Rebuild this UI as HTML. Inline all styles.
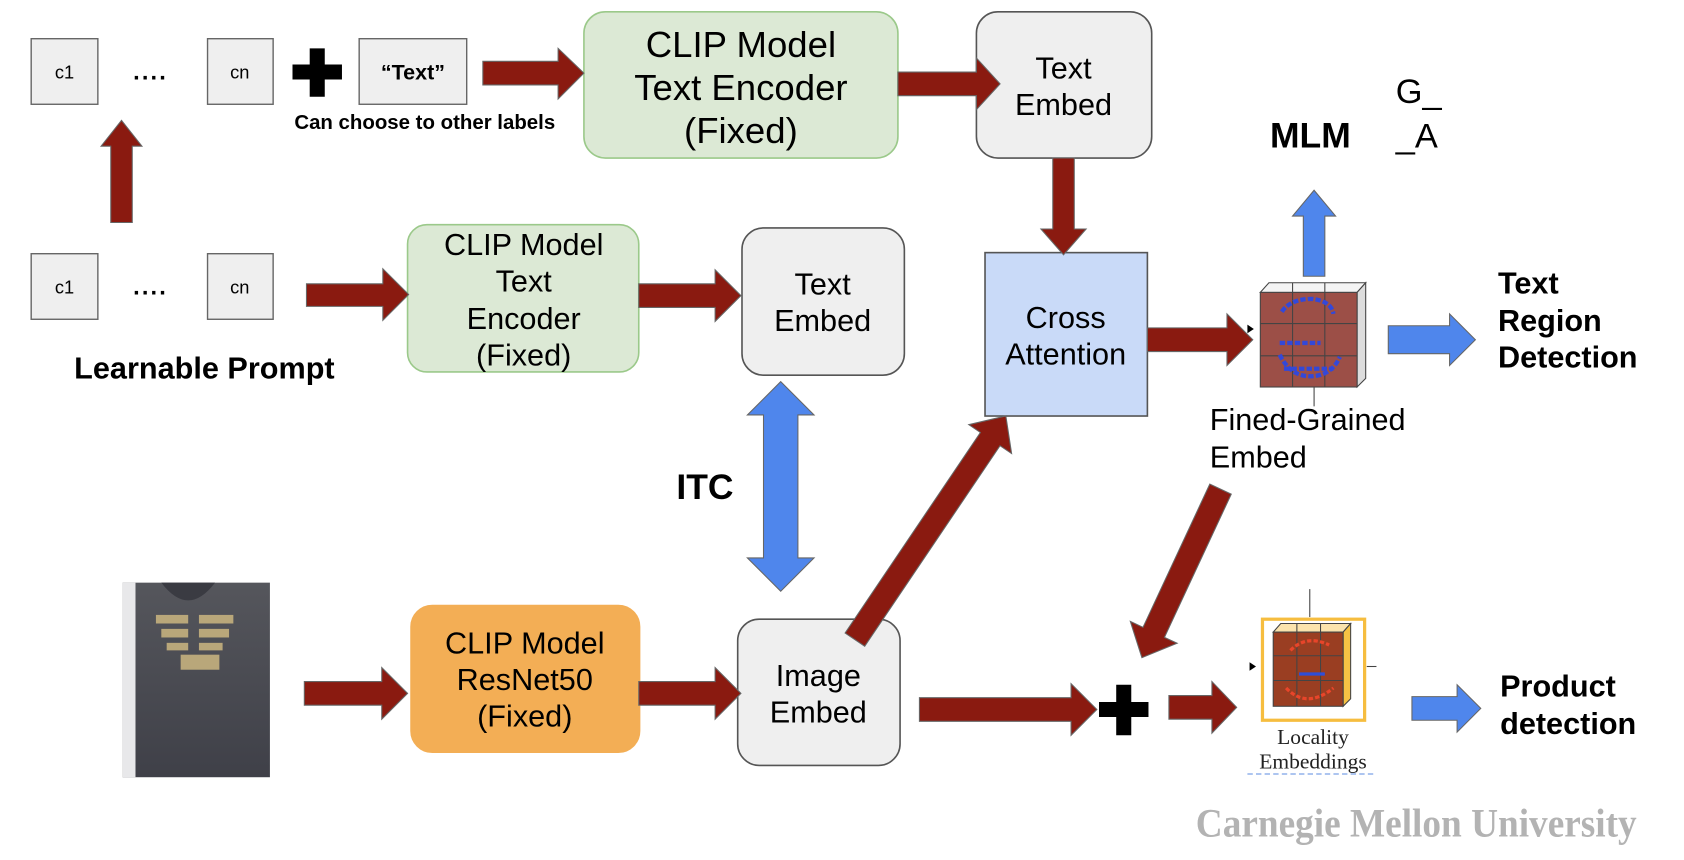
<!DOCTYPE html>
<html><head><meta charset="utf-8"><style>html,body{margin:0;padding:0;background:#fff;overflow:hidden}svg{display:block}</style></head>
<body>
<svg width="1684" height="860" viewBox="0 0 1566 800" preserveAspectRatio="none" xmlns="http://www.w3.org/2000/svg" font-family="Liberation Sans, Arial, sans-serif">
<defs>
<linearGradient id="hood" x1="0" y1="0" x2="0" y2="1"><stop offset="0" stop-color="#55565c"/><stop offset="1" stop-color="#3f4048"/></linearGradient>
</defs>
<g fill="#efefef" stroke="#666" stroke-width="1.3">
<rect x="29" y="36" width="62" height="61"/><rect x="193" y="36" width="61" height="61"/><rect x="334" y="36" width="100" height="61"/>
<rect x="29" y="236" width="62" height="61"/><rect x="193" y="236" width="61" height="61"/>
</g>
<g font-size="17" text-anchor="middle" fill="#000">
<text x="60" y="73">c1</text><text x="223" y="73">cn</text><text x="60" y="273">c1</text><text x="223" y="273">cn</text>
<text x="140" y="74" font-size="22" font-weight="bold" letter-spacing="2">....</text><text x="140" y="274" font-size="22" font-weight="bold" letter-spacing="2">....</text>
<text x="384" y="74" font-size="20" font-weight="bold">“Text”</text>
<text x="395" y="120" font-size="19" font-weight="bold">Can choose to other labels</text>
</g>
<path d="M288,45h14v15h16v14h-16v16h-14v-16h-16v-14h16z" fill="#000"/>
<path d="M1038,637h14v16h16v14h-16v17h-14v-17h-16v-14h16z" fill="#000"/>
<rect x="543" y="11" width="292" height="136" rx="20" fill="#dce9d5" stroke="#9bc98a" stroke-width="1.5"/>
<rect x="379" y="209" width="215" height="137" rx="18" fill="#dce9d5" stroke="#9bc98a" stroke-width="1.5"/>
<rect x="382" y="563" width="213" height="137" rx="20" fill="#f3ae55" stroke="#f3ae55"/>
<g fill="#efefef" stroke="#555" stroke-width="1.5">
<rect x="908" y="11" width="163" height="136" rx="20"/>
<rect x="690" y="212" width="151" height="137" rx="20"/>
<rect x="686" y="576" width="151" height="136" rx="20"/>
</g>
<rect x="916" y="235" width="151" height="152" fill="#c9daf8" stroke="#555" stroke-width="1.5"/>
<g font-size="34" text-anchor="middle" fill="#000">
<text x="689" y="53">CLIP Model</text><text x="689" y="93">Text Encoder</text><text x="689" y="133">(Fixed)</text>
</g>
<g font-size="28.5" text-anchor="middle" fill="#000">
<text x="989" y="73">Text</text><text x="989" y="107">Embed</text>
<text x="487" y="237">CLIP Model</text><text x="487" y="271">Text</text><text x="487" y="306">Encoder</text><text x="487" y="340">(Fixed)</text>
<text x="765" y="274">Text</text><text x="765" y="308">Embed</text>
<text x="991" y="305">Cross</text><text x="991" y="339">Attention</text>
<text x="488" y="608">CLIP Model</text><text x="488" y="642">ResNet50</text><text x="488" y="676">(Fixed)</text>
<text x="761" y="638">Image</text><text x="761" y="672">Embed</text>
</g>
<g font-size="28.5" fill="#000">
<text x="1125" y="400">Fined-Grained</text><text x="1125" y="435">Embed</text>
<text x="1298" y="96" font-size="32">G_</text><text x="1298" y="137" font-size="32">_A</text>
</g>
<g font-weight="bold" fill="#000">
<text x="69" y="352" font-size="28.5">Learnable Prompt</text>
<text x="1181" y="137" font-size="33">MLM</text>
<text x="629" y="464" font-size="33">ITC</text>
<text x="1393" y="273" font-size="28.5">Text</text><text x="1393" y="308" font-size="28.5">Region</text><text x="1393" y="342" font-size="28.5">Detection</text>
<text x="1395" y="648" font-size="28.5">Product</text><text x="1395" y="683" font-size="28.5">detection</text>
</g>
<g fill="#8a1a10" stroke="#666" stroke-width="1">
<polygon points="449,57 519,57 519,45 543,68 519,92 519,79 449,79"/>
<polygon points="835,67 908,67 908,54 930,78 908,102 908,89 835,89"/>
<polygon points="285,264 356,264 356,250 380,274 356,298 356,285 285,285"/>
<polygon points="594,264 665,264 665,251 689,275 665,299 665,286 594,286"/>
<polygon points="283,634 355,634 355,621 379,645 355,669 355,656 283,656"/>
<polygon points="594,634 665,634 665,621 689,645 665,669 665,656 594,656"/>
<polygon points="1067,305 1141,305 1141,292 1165,316 1141,340 1141,327 1067,327"/>
<polygon points="855,649 996,649 996,636 1020,660 996,684 996,671 855,671"/>
<polygon points="1087,647 1127,647 1127,634 1150,658 1127,682 1127,669 1087,669"/>
<polygon transform="translate(113,207) rotate(-90)" points="0,-10 71,-10 71,-19 95,0 71,19 71,10 0,10"/>
<polygon transform="translate(989,147) rotate(90)" points="0,-10 66,-10 66,-21 90,0 66,21 66,10 0,10"/>
<polygon transform="translate(795,595) rotate(-56)" points="0,-11 225,-11 225,-24 251,0 225,24 225,11 0,11"/>
<polygon transform="translate(1135,455) rotate(115)" points="0,-11 147,-11 147,-24 173,0 147,24 147,11 0,11"/>
</g>
<g fill="#4f86ec" stroke="#666" stroke-width="1">
<polygon points="1291,303 1348,303 1348,292 1372,316 1348,340 1348,329 1291,329"/>
<polygon points="1313,648 1355,648 1355,637 1377,659 1355,681 1355,670 1313,670"/>
<polygon transform="translate(1222,257) rotate(-90)" points="0,-10 56,-10 56,-20 80,0 56,20 56,10 0,10"/>
<polygon points="710,386 695,386 726,355 757,386 742,386 742,519 757,519 726,550 695,519 710,519"/>
</g>
<polygon points="1172,272 1180,263 1270,263 1262,272" fill="#f4f4f4" stroke="#444"/>
<polygon points="1262,272 1270,263 1270,352 1262,360" fill="#ddd" stroke="#444"/>
<rect x="1172" y="272" width="90" height="88" fill="#9c4f47" stroke="#444"/>
<g stroke="#444" stroke-width="1"><line x1="1202" y1="263" x2="1202" y2="360"/><line x1="1232" y1="263" x2="1232" y2="360"/><line x1="1172" y1="301" x2="1262" y2="301"/><line x1="1172" y1="331" x2="1262" y2="331"/><line x1="1222" y1="360" x2="1222" y2="378"/></g>
<g fill="none" stroke="#3348d8" stroke-width="4" stroke-dasharray="5 2">
<path d="M1192,290 Q1200,278 1220,278 Q1238,280 1240,292"/><line x1="1190" y1="319" x2="1228" y2="319"/><line x1="1194" y1="343" x2="1240" y2="343"/><path d="M1190,330 Q1200,350 1218,350 Q1238,350 1246,332"/>
</g>
<polygon points="1160,302 1166,306 1160,310" fill="#000"/>
<line x1="1218" y1="548" x2="1218" y2="574" stroke="#444"/>
<line x1="1271" y1="620" x2="1280" y2="620" stroke="#444"/>
<rect x="1174" y="576" width="95" height="94" fill="#fff" stroke="#f6bd3f" stroke-width="3"/>
<polygon points="1184,588 1191,580 1256,580 1249,588" fill="#fbe3ad" stroke="#444"/>
<polygon points="1249,588 1256,580 1256,650 1249,657" fill="#f6c244" stroke="#444"/>
<rect x="1184" y="588" width="65" height="69" fill="#9a3e22" stroke="#444"/>
<g stroke="#444"><line x1="1206" y1="580" x2="1206" y2="657"/><line x1="1228" y1="580" x2="1228" y2="657"/><line x1="1184" y1="610" x2="1249" y2="610"/><line x1="1184" y1="633" x2="1249" y2="633"/></g>
<g fill="none" stroke="#e8452a" stroke-width="3" stroke-dasharray="4 2"><path d="M1200,605 Q1215,590 1236,600"/><path d="M1196,640 Q1215,660 1240,640"/></g>
<line x1="1208" y1="627" x2="1232" y2="627" stroke="#2f4ed8" stroke-width="3"/>
<polygon points="1162,616 1168,620 1162,624" fill="#000"/>
<g font-family="Liberation Serif, serif" font-size="20" text-anchor="middle" fill="#222"><text x="1221" y="692">Locality</text><text x="1221" y="715">Embeddings</text></g>
<line x1="1160" y1="720" x2="1277" y2="720" stroke="#5b8be0" stroke-dasharray="5 3"/>
<rect x="114" y="542" width="137" height="181" fill="url(#hood)"/>
<rect x="114" y="542" width="12" height="181" fill="#e8e8ea"/>
<path d="M150,542 Q175,575 200,542 Z" fill="#3a3b42"/>
<g fill="#b9a77a"><rect x="145" y="572" width="30" height="8"/><rect x="185" y="572" width="32" height="8"/><rect x="150" y="585" width="25" height="8"/><rect x="185" y="585" width="28" height="8"/><rect x="155" y="598" width="20" height="7"/><rect x="185" y="598" width="22" height="7"/><rect x="168" y="609" width="36" height="14"/></g>
<text x="1112" y="778" font-family="Liberation Serif, serif" font-size="37" font-weight="bold" fill="#b3b3b3" textLength="410" lengthAdjust="spacingAndGlyphs">Carnegie Mellon University</text>
</svg>
</body></html>
